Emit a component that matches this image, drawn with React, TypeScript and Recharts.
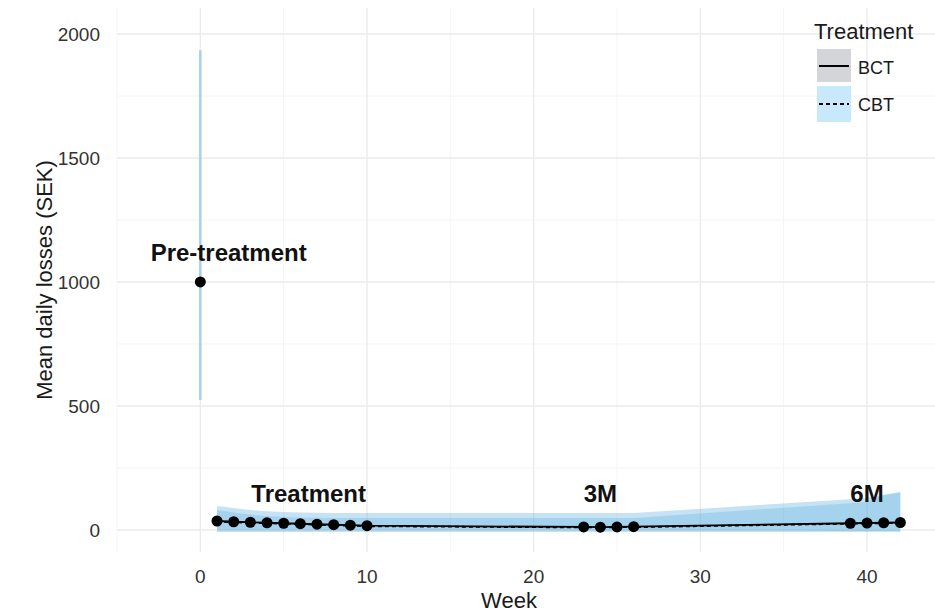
import {
  ComposedChart,
  Area,
  Line,
  Scatter,
  ErrorBar,
  XAxis,
  YAxis,
  CartesianGrid,
  ReferenceDot,
} from "recharts";

// observed weeks (treatment 1-10, 3M follow-up, 6M follow-up)
const weeks = [1, 2, 3, 4, 5, 6, 7, 8, 9, 10, 23, 24, 25, 26, 39, 40, 41, 42];
const bctMean = [36, 33, 31, 29, 27, 25, 23, 21, 19, 17, 12, 11, 12, 13, 27, 28, 29, 30];
const cbtMean = [34, 31, 29, 27, 25, 23, 21, 19, 17, 15, 10, 10, 11, 11, 25, 26, 27, 28];
const bctLow = [-2, -2, -2, -2, -2, -2, -2, -2, -2, -2, -2, -2, -2, -2, -4, -4, -4, -4];
const bctHigh = [80, 70, 62, 56, 52, 50, 49, 48, 48, 48, 48, 48, 48, 48, 108, 114, 140, 150];
const cbtLow = [-8, -8, -8, -8, -8, -8, -8, -8, -8, -8, -8, -8, -8, -8, -8, -8, -8, -8];
const cbtHigh = [97, 88, 80, 75, 72, 70, 69, 68, 68, 68, 68, 68, 68, 68, 124, 129, 142, 154];

// pre-treatment mean with interval
const preWeek = 0;
const preMean = 1000;
const preLow = 524;
const preHigh = 1935;

const xTicks = [0, 10, 20, 30, 40];
const xMinor = [-5, 5, 15, 25, 35];
const yTicks = [0, 500, 1000, 1500, 2000];
const yMinor = [250, 750, 1250, 1750];

const annotations = [
  { text: "Pre-treatment", week: 1.7, value: 1117 },
  { text: "Treatment", week: 6.5, value: 145 },
  { text: "3M", week: 24, value: 145 },
  { text: "6M", week: 40, value: 145 },
];

const FONT = "'Liberation Sans', Arial, Helvetica, sans-serif";

const rows = weeks.map((w, i) => ({
  week: w,
  bct: bctMean[i],
  cbt: cbtMean[i],
  bctBand: [bctLow[i], bctHigh[i]],
  cbtBand: [cbtLow[i], cbtHigh[i]],
}));

const preData = [
  { week: preWeek, value: preMean, err: [preMean - preLow, preHigh - preMean] },
];

const AnnoLabel = (props: any) => {
  const vb = props.viewBox || {};
  return (
    <text
      x={vb.x + (vb.width || 0) / 2}
      y={vb.y + (vb.height || 0) / 2}
      dy="0.35em"
      textAnchor="middle"
      fontFamily={FONT}
      fontWeight="bold"
      fontSize={24}
      fill="#111"
    >
      {props.text}
    </text>
  );
};

const YTitle = (props: any) => {
  const vb = props.viewBox || {};
  const cx = vb.x + 44;
  const cy = vb.y + vb.height / 2;
  return (
    <text
      x={cx}
      y={cy}
      dy="0.35em"
      textAnchor="middle"
      transform={`rotate(-90 ${cx} ${cy})`}
      fontFamily={FONT}
      fontSize={22}
      fill="#1a1a1a"
    >
      Mean daily losses (SEK)
    </text>
  );
};

const XTitle = (props: any) => {
  const vb = props.viewBox || {};
  return (
    <text
      x={509}
      y={vb.y + 56}
      textAnchor="middle"
      fontFamily={FONT}
      fontSize={22}
      fill="#1a1a1a"
    >
      Week
    </text>
  );
};

function LegendBox() {
  return (
    <svg
      width={935}
      height={614}
      style={{ position: "absolute", left: 0, top: 0, pointerEvents: "none" }}
    >
      <text x={814} y={39} fontFamily={FONT} fontSize={22} fill="#1a1a1a">
        Treatment
      </text>
      <rect x={817} y={49} width={34} height={33} fill="#d3d5d8" />
      <line x1={819} x2={849} y1={66} y2={66} stroke="#000" strokeWidth={2} />
      <text x={858} y={74} fontFamily={FONT} fontSize={18} fill="#1a1a1a">
        BCT
      </text>
      <rect x={817} y={86} width={34} height={36} fill="#c8e8fc" />
      <line
        x1={819}
        x2={849}
        y1={104}
        y2={104}
        stroke="#000"
        strokeWidth={2}
        strokeDasharray="4 3"
      />
      <text x={858} y={111} fontFamily={FONT} fontSize={18} fill="#1a1a1a">
        CBT
      </text>
    </svg>
  );
}

export default function App() {
  return (
    <div
      style={{
        position: "absolute",
        left: 0,
        top: 0,
        width: 935,
        height: 614,
        background: "#fff",
      }}
    >
      <ComposedChart
        width={935}
        height={614}
        data={rows}
        margin={{ top: 8, right: 0, bottom: 0, left: 0 }}
      >
        <CartesianGrid
          horizontalValues={yMinor}
          verticalValues={xMinor}
          stroke="#f4f4f4"
          strokeWidth={1}
        />
        <CartesianGrid
          horizontalValues={yTicks}
          verticalValues={xTicks}
          stroke="#ebebeb"
          strokeWidth={1.4}
        />
        <XAxis
          dataKey="week"
          type="number"
          domain={[-5, 44.08]}
          ticks={xTicks}
          allowDataOverflow
          axisLine={false}
          tickLine={false}
          tickSize={0}
          tickMargin={18}
          height={62}
          tick={{ fontSize: 19, fill: "#333", fontFamily: FONT }}
          label={<XTitle />}
        />
        <YAxis
          type="number"
          domain={[-89, 2105]}
          ticks={yTicks}
          allowDataOverflow
          axisLine={false}
          tickLine={false}
          tickSize={0}
          tickMargin={17}
          width={117}
          tick={{ fontSize: 19, fill: "#333", fontFamily: FONT }}
          label={<YTitle />}
        />
        <Area
          dataKey="cbtBand"
          stroke="none"
          fill="#62b2e2"
          fillOpacity={0.36}
          isAnimationActive={false}
        />
        <Area
          dataKey="bctBand"
          stroke="none"
          fill="#62b2e2"
          fillOpacity={0.33}
          isAnimationActive={false}
        />
        <Line
          dataKey="cbt"
          stroke="#000"
          strokeWidth={1.8}
          strokeDasharray="4 3"
          dot={false}
          isAnimationActive={false}
        />
        <Line
          dataKey="bct"
          stroke="#000"
          strokeWidth={1.8}
          dot={{ r: 5.5, fill: "#000", stroke: "none" }}
          activeDot={false}
          isAnimationActive={false}
        />
        <Scatter
          data={preData}
          dataKey="value"
          isAnimationActive={false}
          shape={(p: any) => <circle cx={p.cx} cy={p.cy} r={5.5} fill="#000" />}
        >
          <ErrorBar
            dataKey="err"
            direction="y"
            width={0}
            stroke="#a6d0ef"
            strokeWidth={2.5}
            isAnimationActive={false}
          />
        </Scatter>
        {annotations.map((a) => (
          <ReferenceDot
            key={a.text}
            x={a.week}
            y={a.value}
            r={0}
            fill="none"
            stroke="none"
            label={<AnnoLabel text={a.text} />}
          />
        ))}
      </ComposedChart>
      <LegendBox />
    </div>
  );
}
